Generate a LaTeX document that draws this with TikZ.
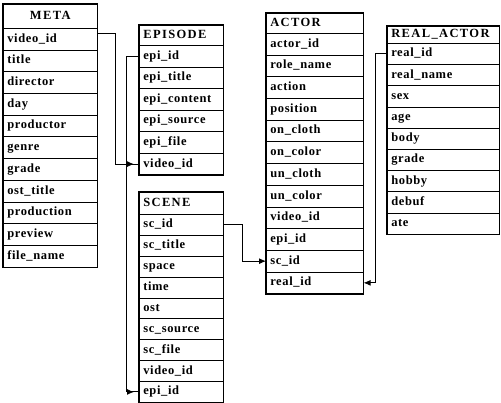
\documentclass[tikz,border=0pt]{standalone}
\usepackage{fontspec}
\setmainfont{Liberation Serif}
\newfontfamily\fieldfont{Liberation Serif}[LetterSpace=5]
\newfontfamily\titlefont{Liberation Serif}[LetterSpace=11]
\usetikzlibrary{arrows.meta,decorations.markings,calc}

\tikzset{
  cell/.style={draw, line width=0.6pt, anchor=north west, inner xsep=4pt, inner ysep=0pt,
    text height=9pt, text depth=3pt, align=left,
    font=\fieldfont\bfseries\fontsize{12.5}{14}\selectfont},
  headcell/.style={cell, font=\titlefont\bfseries\fontsize{12.5}{14}\selectfont},
  frame/.style={draw, line width=1.5pt},
  link/.style={draw, line width=0.9pt},
  endtip/.style={-{Latex[length=7pt,width=6pt]}},
  midtip/.style={postaction={decorate},
    decoration={markings, mark=at position -5pt with {\arrow{Latex[length=7pt,width=6pt]}}}}
}

% #1 name, #2 x, #3 y (top), #4 width, #5 header height, #6 row height,
% #7 number of rows, #8 title, #9 field list
\newcommand\ertable[9]{%
  \pgfmathsetmacro\tw{#4-8}%
  \node[headcell, text width=\tw pt, minimum height=#5pt] (#1-0) at (#2,#3) {#8};
  \foreach \f [count=\i] in {#9} {
    \node[cell, text width=\tw pt, minimum height=#6pt] (#1-\i) at (#2,{#3+#5+(\i-1)*#6}) {\f};
  }
  \draw[frame] (#1-0.north west) rectangle (#1-#7.south east);
}

\begin{document}
\begin{tikzpicture}[x=1pt,y=-1pt]
\useasboundingbox (0,0) rectangle (501,403);

\ertable{meta}{3}{4}{94}{24}{21.7}{11}{\hfill META\hfill\mbox{}}
  {video\_id,title,director,day,productor,genre,grade,ost\_title,production,preview,file\_name}

\ertable{episode}{139}{25}{84}{20}{21.6}{6}{EPISODE}
  {epi\_id,epi\_title,epi\_content,epi\_source,epi\_file,video\_id}

\ertable{scene}{139}{192}{84}{22}{20.9}{9}{SCENE}
  {sc\_id,sc\_title,space,time,ost,sc\_source,sc\_file,video\_id,epi\_id}

\ertable{actor}{266}{13}{97}{20}{21.7}{12}{ACTOR}
  {actor\_id,role\_name,action,position,on\_cloth,on\_color,un\_cloth,un\_color,video\_id,epi\_id,sc\_id,real\_id}

\ertable{real}{387}{26}{112}{17}{21.2}{9}{REAL\_ACTOR}
  {real\_id,real\_name,sex,age,body,grade,hobby,debuf,ate}

% foreign keys
\draw[link, midtip] ($(meta-1.east)+(0,-6)$) -- ($(meta-1.east)+(18,-6)$) |- (episode-6.west);
\draw[link, midtip] (episode-1.west) -- ++(-13,0) |- (scene-9.west);
\draw[link, endtip] (scene-1.east) -- ++(19,0) |- (actor-11.west);
\draw[link, endtip] (real-1.west) -- ++(-12,0) |- (actor-12.east);
\end{tikzpicture}
\end{document}
